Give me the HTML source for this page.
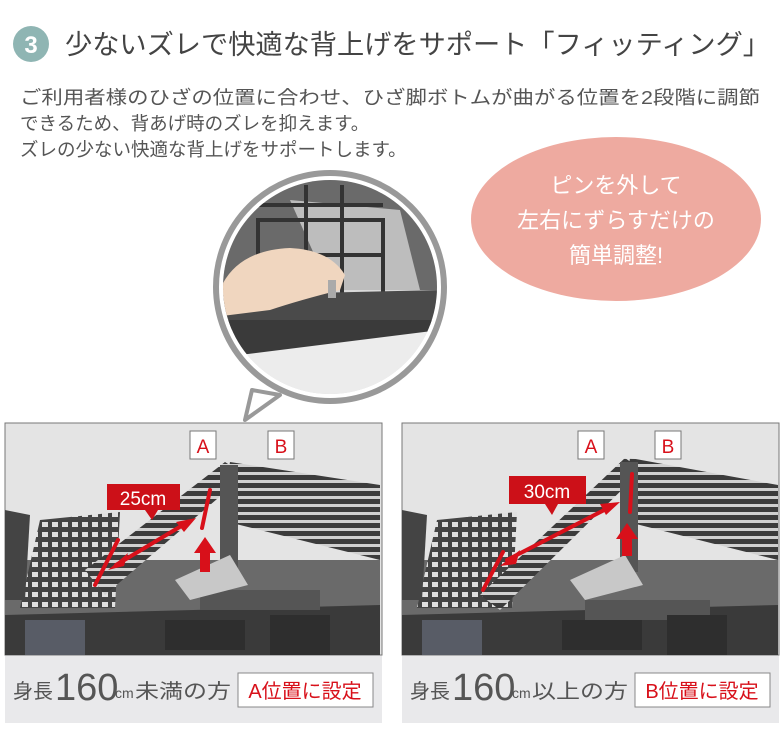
<!DOCTYPE html>
<html><head><meta charset="utf-8"><style>
body{margin:0;width:780px;height:750px;background:#fff;overflow:hidden;font-family:"Liberation Sans","Noto Sans CJK JP",sans-serif;}
</style></head><body>
<svg width="780" height="750" viewBox="0 0 780 750" xmlns="http://www.w3.org/2000/svg" font-family="Liberation Sans, Noto Sans CJK JP, sans-serif">
<defs>
<pattern id="g" width="8" height="8" patternUnits="userSpaceOnUse">
<rect width="8" height="8" fill="#3c3c3c"/><rect x="0" y="0" width="8" height="3" fill="#d0d0d0"/>
</pattern>
<pattern id="g2" width="10" height="10" patternUnits="userSpaceOnUse">
<rect width="10" height="10" fill="#444"/><rect x="2" y="2" width="6" height="5" fill="#e0e0e0"/>
</pattern>
</defs>
<!-- header -->
<circle cx="31" cy="44" r="18" fill="#8fb5b3"/>
<text x="31" y="53" font-size="24" font-weight="bold" fill="#fff" text-anchor="middle">3</text>
<text x="65" y="54" font-size="27" fill="#444" textLength="705" lengthAdjust="spacingAndGlyphs">少ないズレで快適な背上げをサポート「フィッティング」</text>
<g font-size="18.5" fill="#555">
<text x="20" y="104" textLength="740" lengthAdjust="spacingAndGlyphs">ご利用者様のひざの位置に合わせ、ひざ脚ボトムが曲がる位置を2段階に調節</text>
<text x="20" y="130">できるため、背あげ時のズレを抑えます。</text>
<text x="20" y="156">ズレの少ない快適な背上げをサポートします。</text>
</g>
<!-- pink bubble -->
<ellipse cx="616" cy="219" rx="145" ry="82" fill="#eeaaa0"/>
<g font-size="22" fill="#fff" text-anchor="middle">
<text x="616" y="193">ピンを外して</text>
<text x="616" y="228">左右にずらすだけの</text>
<text x="616" y="263">簡単調整!</text>
</g>
<!-- panels -->
<rect x="5" y="423" width="377" height="300" fill="#e9e9eb"/>
<rect x="5" y="423" width="377" height="232" fill="#e4e4e4" stroke="#777" stroke-width="1"/>
<rect x="402" y="423" width="377" height="300" fill="#e9e9eb"/>
<rect x="402" y="423" width="377" height="232" fill="#e4e4e4" stroke="#777" stroke-width="1"/>
<!-- left photo approx -->
<g>
<rect x="5" y="560" width="375" height="60" fill="#6a6a6a"/>
<polygon points="5,615 380,605 380,655 5,655" fill="#3a3a3a"/>
<polygon points="40,520 120,512 115,608 20,608" fill="url(#g2)"/>
<polygon points="85,570 225,462 245,475 105,595" fill="url(#g)"/>
<polygon points="230,462 380,485 380,560 220,520" fill="url(#g)"/>
<rect x="220" y="465" width="18" height="110" fill="#555"/>
<rect x="200" y="590" width="120" height="20" fill="#555"/>
<rect x="25" y="620" width="60" height="35" fill="#585c66"/>
<rect x="165" y="620" width="80" height="30" fill="#2e2e2e"/>
<rect x="270" y="615" width="60" height="40" fill="#2e2e2e"/>
<polygon points="175,580 230,555 248,585 190,600" fill="#c8c8c8"/>
<polygon points="5,510 30,515 25,600 5,600" fill="#444"/>
</g>
<!-- right photo approx -->
<g>
<rect x="402" y="560" width="376" height="60" fill="#6a6a6a"/>
<polygon points="402,615 778,605 778,655 402,655" fill="#3a3a3a"/>
<polygon points="437,520 517,512 512,608 417,608" fill="url(#g2)"/>
<polygon points="480,595 625,458 642,470 500,610" fill="url(#g)"/>
<polygon points="630,458 778,485 778,560 620,520" fill="url(#g)"/>
<rect x="620" y="462" width="18" height="110" fill="#555"/>
<rect x="585" y="600" width="125" height="20" fill="#555"/>
<rect x="422" y="620" width="60" height="35" fill="#585c66"/>
<rect x="562" y="620" width="80" height="30" fill="#2e2e2e"/>
<rect x="667" y="615" width="60" height="40" fill="#2e2e2e"/>
<polygon points="570,580 625,555 643,585 585,600" fill="#c8c8c8"/>
<polygon points="402,510 427,515 422,600 402,600" fill="#444"/>
</g>
<!-- left annotations -->
<g stroke="#d8101a" stroke-width="4" fill="none" stroke-linecap="round">
<line x1="210" y1="490" x2="202" y2="528"/>
<line x1="95" y1="585" x2="118" y2="540"/>
<line x1="116" y1="565" x2="188" y2="522"/>
</g>
<polygon points="108,570 128,553 124,566" fill="#d8101a"/>
<polygon points="196,518 176,522 184,532" fill="#d8101a"/>
<polygon points="205,537 216,553 210,553 210,572 200,572 200,553 194,553" fill="#d8101a"/>
<rect x="107" y="484" width="73" height="26" fill="#cc1018"/>
<polygon points="145,510 158,510 152,520" fill="#cc1018"/>
<text x="143" y="505" font-size="19" fill="#fff" text-anchor="middle">25cm</text>
<rect x="190" y="431" width="26" height="28" fill="#fff" stroke="#777"/>
<text x="203" y="453" font-size="19" fill="#d8101a" text-anchor="middle">A</text>
<rect x="268" y="431" width="26" height="28" fill="#fff" stroke="#777"/>
<text x="281" y="453" font-size="19" fill="#d8101a" text-anchor="middle">B</text>
<!-- right annotations -->
<g stroke="#d8101a" stroke-width="4" fill="none" stroke-linecap="round">
<line x1="632" y1="474" x2="630" y2="512"/>
<line x1="483" y1="590" x2="503" y2="552"/>
<line x1="507" y1="560" x2="612" y2="506"/>
</g>
<polygon points="500,566 520,550 516,564" fill="#d8101a"/>
<polygon points="620,502 600,504 606,515" fill="#d8101a"/>
<polygon points="627,523 638,539 632,539 632,556 622,556 622,539 616,539" fill="#d8101a"/>
<rect x="509" y="476" width="77" height="28" fill="#cc1018"/>
<polygon points="545,504 558,504 552,515" fill="#cc1018"/>
<text x="547" y="498" font-size="19" fill="#fff" text-anchor="middle">30cm</text>
<rect x="578" y="431" width="26" height="28" fill="#fff" stroke="#777"/>
<text x="591" y="453" font-size="19" fill="#d8101a" text-anchor="middle">A</text>
<rect x="655" y="431" width="26" height="28" fill="#fff" stroke="#777"/>
<text x="668" y="453" font-size="19" fill="#d8101a" text-anchor="middle">B</text>
<!-- captions -->
<g fill="#555">
<text x="13" y="698" font-size="20">身長</text>
<text x="55" y="700" font-size="38">160</text>
<text x="115" y="698" font-size="14">cm</text>
<text x="135" y="698" font-size="20" textLength="96" lengthAdjust="spacingAndGlyphs">未満の方</text>
<text x="410" y="698" font-size="20">身長</text>
<text x="452" y="700" font-size="38">160</text>
<text x="512" y="698" font-size="14">cm</text>
<text x="532" y="698" font-size="20" textLength="96" lengthAdjust="spacingAndGlyphs">以上の方</text>
</g>
<rect x="238" y="673" width="135" height="34" fill="#fff" stroke="#888"/>
<text x="305" y="698" font-size="20" fill="#d8101a" text-anchor="middle">A位置に設定</text>
<rect x="635" y="673" width="135" height="34" fill="#fff" stroke="#888"/>
<text x="702" y="698" font-size="20" fill="#d8101a" text-anchor="middle">B位置に設定</text>
<!-- magnifier -->
<polygon points="252,390 245,420 280,395" fill="#fff" stroke="#999" stroke-width="4" stroke-linejoin="round"/>
<circle cx="330" cy="287" r="114" fill="#fff" stroke="#999" stroke-width="6"/>
<clipPath id="c"><circle cx="330" cy="287" r="107"/></clipPath>
<g clip-path="url(#c)">
<rect x="220" y="170" width="220" height="240" fill="#d9d9d9"/>
<rect x="220" y="180" width="220" height="110" fill="#6a6a6a"/>
<polygon points="290,200 400,210 420,290 330,290" fill="#bdbdbd"/>
<g stroke="#333" stroke-width="4" fill="none">
<rect x="258" y="220" width="125" height="80"/>
<line x1="306" y1="185" x2="306" y2="300"/><line x1="342" y1="185" x2="342" y2="300"/>
<line x1="258" y1="255" x2="383" y2="255"/><line x1="258" y1="205" x2="383" y2="205"/>
</g>
<polygon points="220,295 440,290 440,325 220,330" fill="#4a4a4a"/>
<polygon points="220,320 440,320 440,330 330,350 230,355 220,350" fill="#3a3a3a"/>
<polygon points="240,355 440,330 440,410 240,410" fill="#ececec"/>
<path d="M222,285 Q240,250 290,248 Q330,250 345,275 L340,290 Q300,300 270,310 L222,316 Z" fill="#f0d6bf"/>
<rect x="328" y="280" width="8" height="18" fill="#aaa"/>
</g>
</svg>
</body></html>
